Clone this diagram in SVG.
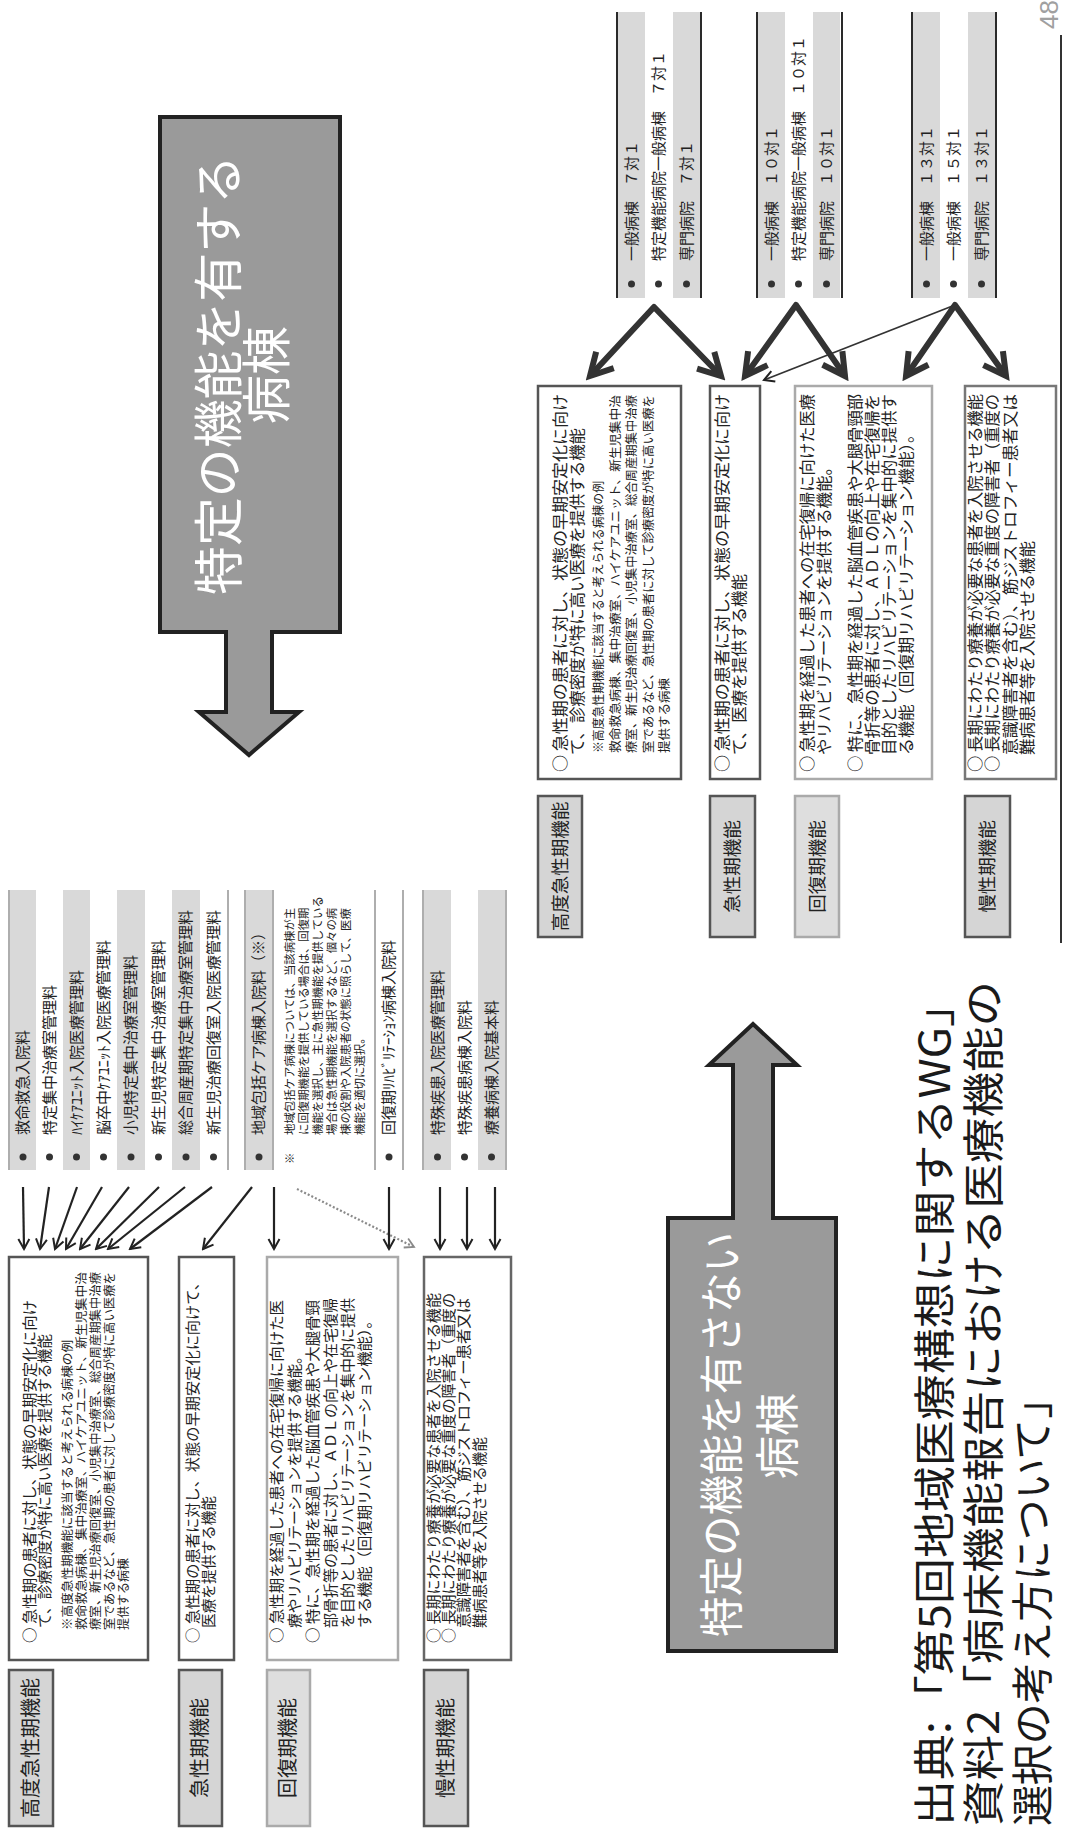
<svg xmlns="http://www.w3.org/2000/svg" width="1069" height="1835" viewBox="0 0 1069 1835">
<defs>
<style>
.t{font-family:"Noto Sans CJK JP","Noto Sans CJK SC",sans-serif;fill:#222}
.big{font-size:50px;fill:#fff}
.big2{font-size:44px;fill:#fff}
.mr{font-size:16px}
.ml{font-size:14.5px}
.sr{font-size:12.5px}
.sl{font-size:12px}
.b{font-size:15px}
.nt{font-size:11.4px}
.lab{font-size:20px}
.labr{font-size:18.5px}
.foot{font-size:42px;fill:#1a1a1a}
.barg{fill:#d9d9d9}
.rl{stroke:#2a2a2a;stroke-width:2}
.ll{stroke:#9a9a9a;stroke-width:1.6}
.desc{fill:#fff;stroke:#555;stroke-width:2.5}
.descl{fill:#fff;stroke:#aaa;stroke-width:2.5}
.lbl{fill:#d5d5d5;stroke:#555;stroke-width:2.5}
.lbll{fill:#dedede;stroke:#aaa;stroke-width:2.5}
.callout{fill:#9a9a9a;stroke:#222;stroke-width:4;stroke-linejoin:miter}
.ka{stroke:#222;stroke-width:2.2;fill:none}
.kb{stroke:#333;stroke-width:6;fill:none;stroke-linejoin:round}
.kd{stroke:#8a8a8a;stroke-width:2.2;fill:none;stroke-dasharray:2 2}
.kt{stroke:#333;stroke-width:1.8;fill:none}
.dot{fill:#333}
</style>
<marker id="ah" markerUnits="userSpaceOnUse" markerWidth="14" markerHeight="14" viewBox="0 0 14 14" refX="12" refY="7" orient="auto"><path d="M2,1.5 L12,7 L2,12.5" fill="none" stroke="#222" stroke-width="2"/></marker>
<marker id="ahd" markerUnits="userSpaceOnUse" markerWidth="14" markerHeight="14" viewBox="0 0 14 14" refX="12" refY="7" orient="auto"><path d="M3,2 L12,7 L3,12" fill="none" stroke="#8a8a8a" stroke-width="1.8"/></marker>
<marker id="ahb" markerUnits="userSpaceOnUse" markerWidth="32" markerHeight="32" viewBox="0 0 32 32" refX="26" refY="16" orient="auto-start-reverse"><path d="M4,4 L26,16 L4,28" fill="none" stroke="#333" stroke-width="6" stroke-linejoin="miter"/></marker>
</defs>
<rect x="0" y="0" width="1069" height="1835" fill="#ffffff"/>
<g id="page" transform="translate(0,1835) rotate(-90)">

<!-- ===== Big callout: specific function wards ===== -->
<g id="box-specific">
<path class="callout" d="M1203,160 H1718 V340 H1203 V272 H1123 V299 L1080,249 L1123,199 V226 H1203 Z"/>
<text class="t big" x="1240" y="237" textLength="440" lengthAdjust="spacingAndGlyphs">特定の機能を有する</text>
<text class="t big" x="1411" y="285" textLength="98" lengthAdjust="spacingAndGlyphs">病棟</text>
</g>

<!-- ===== Big callout: non-specific wards ===== -->
<g id="box-nonspecific">
<path class="callout" d="M184,668 H617 V733 H770 V709 L811,753 L770,797 V773 H617 V836 H184 Z"/>
<text class="t big2" x="198" y="738" textLength="405" lengthAdjust="spacingAndGlyphs">特定の機能を有さない</text>
<text class="t big2" x="356" y="794" textLength="86" lengthAdjust="spacingAndGlyphs">病棟</text>
</g>

<!-- ===== Right: ward standard groups ===== -->
<g id="grp-7">
<line class="rl" x1="1537" y1="617" x2="1823" y2="617"/>
<rect class="barg" x="1537" y="618" width="286" height="27"/>
<rect class="barg" x="1537" y="673" width="286" height="27"/>
<line class="rl" x1="1537" y1="701" x2="1823" y2="701"/>
<circle class="dot" cx="1551" cy="631.5" r="3.5"/><circle class="dot" cx="1551" cy="658.5" r="3.5"/><circle class="dot" cx="1551" cy="686.5" r="3.5"/>
<text class="t b" x="1574" y="636.5">一般病棟　７対１</text>
<text class="t b" x="1574" y="663.5">特定機能病院一般病棟　７対１</text>
<text class="t b" x="1574" y="691.5">専門病院　７対１</text>
</g>
<g id="grp-10">
<line class="rl" x1="1537" y1="757" x2="1823" y2="757"/>
<rect class="barg" x="1537" y="758" width="286" height="27"/>
<rect class="barg" x="1537" y="813" width="286" height="27"/>
<line class="rl" x1="1537" y1="842" x2="1823" y2="842"/>
<circle class="dot" cx="1551" cy="771.5" r="3.5"/><circle class="dot" cx="1551" cy="798.5" r="3.5"/><circle class="dot" cx="1551" cy="826.5" r="3.5"/>
<text class="t b" x="1574" y="776.5">一般病棟　１０対１</text>
<text class="t b" x="1574" y="803.5">特定機能病院一般病棟　１０対１</text>
<text class="t b" x="1574" y="831.5">専門病院　１０対１</text>
</g>
<g id="grp-13">
<line class="rl" x1="1537" y1="912" x2="1823" y2="912"/>
<rect class="barg" x="1537" y="913" width="286" height="27"/>
<rect class="barg" x="1537" y="968" width="286" height="27"/>
<line class="rl" x1="1537" y1="996" x2="1823" y2="996"/>
<circle class="dot" cx="1551" cy="926.5" r="3.5"/><circle class="dot" cx="1551" cy="953.5" r="3.5"/><circle class="dot" cx="1551" cy="981.5" r="3.5"/>
<text class="t b" x="1574" y="931.5">一般病棟　１３対１</text>
<text class="t b" x="1574" y="958.5">一般病棟　１５対１</text>
<text class="t b" x="1574" y="986.5">専門病院　１３対１</text>
</g>

<!-- ===== Right: description boxes ===== -->
<g id="desc-hi-r">
<rect class="desc" x="1056" y="538" width="393" height="143"/>
<text class="t mr" x="1063" y="566" textLength="378" lengthAdjust="spacingAndGlyphs">○ 急性期の患者に対し、状態の早期安定化に向け</text>
<text class="t mr" x="1080" y="583" textLength="327" lengthAdjust="spacingAndGlyphs">て、診療密度が特に高い医療を提供する機能</text>
<text class="t sr" x="1082" y="603" textLength="272" lengthAdjust="spacingAndGlyphs">※高度急性期機能に該当すると考えられる病棟の例</text>
<text class="t sr" x="1082" y="620" textLength="358" lengthAdjust="spacingAndGlyphs">救命救急病棟、集中治療室、ハイケアユニット、新生児集中治</text>
<text class="t sr" x="1082" y="636" textLength="358" lengthAdjust="spacingAndGlyphs">療室、新生児治療回復室、小児集中治療室、総合周産期集中治療</text>
<text class="t sr" x="1082" y="653" textLength="358" lengthAdjust="spacingAndGlyphs">室であるなど、急性期の患者に対して診療密度が特に高い医療を</text>
<text class="t sr" x="1082" y="669">提供する病棟</text>
</g>
<g id="desc-ac-r">
<rect class="desc" x="1056" y="710" width="393" height="50"/>
<text class="t mr" x="1063" y="728" textLength="378" lengthAdjust="spacingAndGlyphs">○ 急性期の患者に対し、状態の早期安定化に向け</text>
<text class="t mr" x="1080" y="745" textLength="181" lengthAdjust="spacingAndGlyphs">て、医療を提供する機能</text>
</g>
<g id="desc-re-r">
<rect class="descl" x="1056" y="795" width="393" height="137"/>
<text class="t mr" x="1063" y="813" textLength="378" lengthAdjust="spacingAndGlyphs">○ 急性期を経過した患者への在宅復帰に向けた医療</text>
<text class="t mr" x="1080" y="830" textLength="296" lengthAdjust="spacingAndGlyphs">やリハビリテーションを提供する機能。</text>
<text class="t mr" x="1063" y="861" textLength="378" lengthAdjust="spacingAndGlyphs">○ 特に、急性期を経過した脳血管疾患や大腿骨頸部</text>
<text class="t mr" x="1080" y="878" textLength="361" lengthAdjust="spacingAndGlyphs">骨折等の患者に対し、ＡＤＬの向上や在宅復帰を</text>
<text class="t mr" x="1080" y="895" textLength="361" lengthAdjust="spacingAndGlyphs">目的としたリハビリテーションを集中的に提供す</text>
<text class="t mr" x="1080" y="912" textLength="329" lengthAdjust="spacingAndGlyphs">る機能（回復期リハビリテーション機能）。</text>
</g>
<g id="desc-ch-r">
<rect class="desc" x="1056" y="965" width="393" height="91" style="stroke:#777"/>
<text class="t mr" x="1063" y="981" textLength="378" lengthAdjust="spacingAndGlyphs">○ 長期にわたり療養が必要な患者を入院させる機能</text>
<text class="t mr" x="1063" y="998" textLength="378" lengthAdjust="spacingAndGlyphs">○ 長期にわたり療養が必要な重度の障害者（重度の</text>
<text class="t mr" x="1080" y="1016" textLength="361" lengthAdjust="spacingAndGlyphs">意識障害者を含む）、筋ジストロフィー患者又は</text>
<text class="t mr" x="1080" y="1033" textLength="214" lengthAdjust="spacingAndGlyphs">難病患者等を入院させる機能</text>
</g>

<!-- ===== Right: labels ===== -->
<g id="lbl-hi-r"><rect class="lbl" x="898" y="538" width="141" height="44"/><text class="t labr" x="968.5" y="566.5" text-anchor="middle">高度急性期機能</text></g>
<g id="lbl-ac-r"><rect class="lbl" x="898" y="710" width="141" height="45"/><text class="t labr" x="968.5" y="739" text-anchor="middle">急性期機能</text></g>
<g id="lbl-re-r"><rect class="lbll" x="898" y="795" width="141" height="44"/><text class="t labr" x="968.5" y="823.5" text-anchor="middle">回復期機能</text></g>
<g id="lbl-ch-r"><rect class="lbl" x="898" y="965" width="141" height="45"/><text class="t labr" x="968.5" y="994" text-anchor="middle">慢性期機能</text></g>

<g id="separator"><line x1="892" y1="1061" x2="1800" y2="1061" stroke="#333" stroke-width="2"/></g>

<!-- ===== Left: fee item list ===== -->
<g id="list-high">
<line class="ll" x1="665" y1="9" x2="945" y2="9"/>
<rect class="barg" x="665" y="10" width="280" height="26"/>
<rect class="barg" x="665" y="63" width="280" height="27"/>
<rect class="barg" x="665" y="117" width="280" height="28"/>
<rect class="barg" x="665" y="172" width="280" height="28"/>
<line class="ll" x1="665" y1="228" x2="945" y2="228"/>
<circle class="dot" cx="678" cy="23" r="3.5"/><circle class="dot" cx="678" cy="49.5" r="3.5"/><circle class="dot" cx="678" cy="76.5" r="3.5"/><circle class="dot" cx="678" cy="103.5" r="3.5"/><circle class="dot" cx="678" cy="131" r="3.5"/><circle class="dot" cx="678" cy="158.5" r="3.5"/><circle class="dot" cx="678" cy="186" r="3.5"/><circle class="dot" cx="678" cy="213.5" r="3.5"/>
<text class="t b" x="700" y="28">救命救急入院料</text>
<text class="t b" x="700" y="54.5">特定集中治療室管理料</text>
<text class="t b" x="700" y="81.5">ﾊｲｹｱﾕﾆｯﾄ入院医療管理料</text>
<text class="t b" x="700" y="108.5">脳卒中ｹｱﾕﾆｯﾄ入院医療管理料</text>
<text class="t b" x="700" y="136">小児特定集中治療室管理料</text>
<text class="t b" x="700" y="163.5">新生児特定集中治療室管理料</text>
<text class="t b" x="700" y="191">総合周産期特定集中治療室管理料</text>
<text class="t b" x="700" y="218.5">新生児治療回復室入院医療管理料</text>
</g>
<g id="list-community">
<line class="ll" x1="665" y1="245" x2="945" y2="245"/>
<rect class="barg" x="665" y="246" width="280" height="26"/>
<line class="ll" x1="665" y1="273" x2="945" y2="273"/>
<circle class="dot" cx="678" cy="259" r="3.5"/>
<text class="t b" x="700" y="264">地域包括ケア病棟入院料（※）</text>
<text class="t nt" x="671" y="293.5">※</text>
<text class="t nt" x="700" y="293.5">地域包括ケア病棟については、当該病棟が主</text>
<text class="t nt" x="700" y="307.5">に回復期機能を提供している場合は、回復期</text>
<text class="t nt" x="700" y="321.5">機能を選択し、主に急性期機能を提供している</text>
<text class="t nt" x="700" y="335.5">場合は急性期機能を選択するなど、個々の病</text>
<text class="t nt" x="700" y="349.5">棟の役割や入院患者の状態に照らして、医療</text>
<text class="t nt" x="700" y="363.5">機能を適切に選択。</text>
<line class="ll" x1="665" y1="375" x2="945" y2="375"/>
</g>
<g id="list-recovery">
<circle class="dot" cx="678" cy="389" r="3.5"/>
<text class="t b" x="700" y="394">回復期ﾘﾊﾋﾞﾘﾃｰｼｮﾝ病棟入院料</text>
<line class="ll" x1="665" y1="403" x2="945" y2="403"/>
</g>
<g id="list-chronic">
<line class="ll" x1="665" y1="423" x2="945" y2="423"/>
<rect class="barg" x="665" y="424" width="280" height="27"/>
<rect class="barg" x="665" y="478" width="280" height="27"/>
<line class="ll" x1="665" y1="506" x2="945" y2="506"/>
<circle class="dot" cx="678" cy="437.5" r="3.5"/><circle class="dot" cx="678" cy="464.5" r="3.5"/><circle class="dot" cx="678" cy="491.5" r="3.5"/>
<text class="t b" x="700" y="442.5">特殊疾患入院医療管理料</text>
<text class="t b" x="700" y="469.5">特殊疾患病棟入院料</text>
<text class="t b" x="700" y="496.5">療養病棟入院基本料</text>
</g>

<!-- ===== Left: description boxes ===== -->
<g id="desc-hi-l">
<rect class="desc" x="175" y="9" width="403" height="139"/>
<text class="t ml" x="192" y="35" textLength="343" lengthAdjust="spacingAndGlyphs">○ 急性期の患者に対し、状態の早期安定化に向け</text>
<text class="t ml" x="207" y="50" textLength="294" lengthAdjust="spacingAndGlyphs">て、診療密度が特に高い医療を提供する機能</text>
<text class="t sl" x="205" y="72" textLength="290" lengthAdjust="spacingAndGlyphs">※高度急性期機能に該当すると考えられる病棟の例</text>
<text class="t sl" x="205" y="86" textLength="358" lengthAdjust="spacingAndGlyphs">救命救急病棟、集中治療室、ハイケアユニット、新生児集中治</text>
<text class="t sl" x="205" y="100" textLength="358" lengthAdjust="spacingAndGlyphs">療室、新生児治療回復室、小児集中治療室、総合周産期集中治療</text>
<text class="t sl" x="205" y="114" textLength="358" lengthAdjust="spacingAndGlyphs">室であるなど、急性期の患者に対して診療密度が特に高い医療を</text>
<text class="t sl" x="205" y="128">提供する病棟</text>
</g>
<g id="desc-ac-l">
<rect class="desc" x="175" y="179" width="403" height="55"/>
<text class="t ml" x="192" y="198" textLength="368" lengthAdjust="spacingAndGlyphs">○ 急性期の患者に対し、状態の早期安定化に向けて、</text>
<text class="t ml" x="207" y="214" textLength="132" lengthAdjust="spacingAndGlyphs">医療を提供する機能</text>
</g>
<g id="desc-re-l">
<rect class="descl" x="175" y="267" width="403" height="131"/>
<text class="t ml" x="192" y="282" textLength="343" lengthAdjust="spacingAndGlyphs">○ 急性期を経過した患者への在宅復帰に向けた医</text>
<text class="t ml" x="207" y="300" textLength="279" lengthAdjust="spacingAndGlyphs">療やリハビリテーションを提供する機能。</text>
<text class="t ml" x="192" y="318" textLength="343" lengthAdjust="spacingAndGlyphs">○ 特に、急性期を経過した脳血管疾患や大腿骨頸</text>
<text class="t ml" x="207" y="336" textLength="330" lengthAdjust="spacingAndGlyphs">部骨折等の患者に対し、ＡＤＬの向上や在宅復帰</text>
<text class="t ml" x="207" y="353" textLength="330" lengthAdjust="spacingAndGlyphs">を目的としたリハビリテーションを集中的に提供</text>
<text class="t ml" x="207" y="370" textLength="315" lengthAdjust="spacingAndGlyphs">する機能（回復期リハビリテーション機能）。</text>
</g>
<g id="desc-ch-l">
<rect class="desc" x="175" y="424" width="403" height="87" style="stroke:#666"/>
<text class="t ml" x="192" y="439" textLength="350" lengthAdjust="spacingAndGlyphs">○ 長期にわたり療養が必要な患者を入院させる機能</text>
<text class="t ml" x="192" y="454" textLength="350" lengthAdjust="spacingAndGlyphs">○ 長期にわたり療養が必要な重度の障害者（重度の</text>
<text class="t ml" x="207" y="469" textLength="330" lengthAdjust="spacingAndGlyphs">意識障害者を含む）、筋ジストロフィー患者又は</text>
<text class="t ml" x="207" y="485" textLength="191" lengthAdjust="spacingAndGlyphs">難病患者等を入院させる機能</text>
</g>

<!-- ===== Left: labels ===== -->
<g id="lbl-hi-l"><rect class="lbl" x="9" y="9" width="156" height="44"/><text class="t lab" x="87" y="38" text-anchor="middle">高度急性期機能</text></g>
<g id="lbl-ac-l"><rect class="lbl" x="9" y="179" width="156" height="43"/><text class="t lab" x="87" y="207" text-anchor="middle">急性期機能</text></g>
<g id="lbl-re-l"><rect class="lbll" x="9" y="267" width="156" height="43"/><text class="t lab" x="87" y="295" text-anchor="middle">回復期機能</text></g>
<g id="lbl-ch-l"><rect class="lbl" x="9" y="424" width="156" height="44"/><text class="t lab" x="87" y="453" text-anchor="middle">慢性期機能</text></g>

<!-- ===== Connectors ===== -->
<g id="connectors">
<line class="ka" x1="648" y1="23" x2="586" y2="24" marker-end="url(#ah)"/>
<line class="ka" x1="648" y1="49" x2="586" y2="40" marker-end="url(#ah)"/>
<line class="ka" x1="648" y1="77" x2="586" y2="55" marker-end="url(#ah)"/>
<line class="ka" x1="648" y1="102" x2="586" y2="66" marker-end="url(#ah)"/>
<line class="ka" x1="648" y1="129" x2="586" y2="80" marker-end="url(#ah)"/>
<line class="ka" x1="648" y1="159" x2="586" y2="96" marker-end="url(#ah)"/>
<line class="ka" x1="648" y1="185" x2="586" y2="108" marker-end="url(#ah)"/>
<line class="ka" x1="648" y1="212" x2="586" y2="130" marker-end="url(#ah)"/>
<line class="ka" x1="648" y1="252" x2="586" y2="203" marker-end="url(#ah)"/>
<line class="ka" x1="648" y1="274" x2="586" y2="274" marker-end="url(#ah)"/>
<line class="kd" x1="646" y1="297" x2="588" y2="414" marker-end="url(#ahd)"/>
<line class="ka" x1="648" y1="389" x2="586" y2="389" marker-end="url(#ah)"/>
<line class="ka" x1="648" y1="440" x2="586" y2="440" marker-end="url(#ah)"/>
<line class="ka" x1="648" y1="467" x2="586" y2="467" marker-end="url(#ah)"/>
<line class="ka" x1="648" y1="495" x2="586" y2="495" marker-end="url(#ah)"/>
<polyline class="kb" points="1459,590 1528,654 1459,721" marker-start="url(#ahb)" marker-end="url(#ahb)"/>
<polyline class="kb" points="1459,745 1530,796 1459,845" marker-start="url(#ahb)" marker-end="url(#ahb)"/>
<polyline class="kb" points="1459,906 1530,955 1459,1006" marker-start="url(#ahb)" marker-end="url(#ahb)"/>
<line class="kt" x1="1530" y1="955" x2="1455" y2="764" marker-end="url(#ah)"/>
</g>

<!-- ===== Footer / page number ===== -->
<g id="footer">
<text class="t foot" x="9" y="950" textLength="845" lengthAdjust="spacingAndGlyphs">出典:「第5回地域医療構想に関するWG」</text>
<text class="t foot" x="9" y="999" textLength="845" lengthAdjust="spacingAndGlyphs">資料2「病床機能報告における医療機能の</text>
<text class="t foot" x="9" y="1048" textLength="448" lengthAdjust="spacingAndGlyphs">選択の考え方について」</text>
</g>
<g id="page-number"><text x="1806" y="1058" font-family="Liberation Sans, sans-serif" font-size="26" fill="#a0a0a0">48</text></g>
</g>
</svg>
